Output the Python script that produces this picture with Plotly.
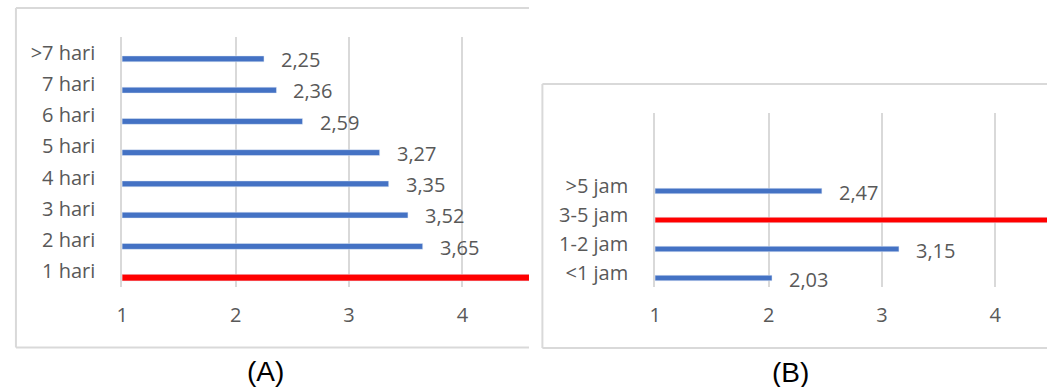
import plotly.graph_objects as go

W, H = 1047, 387

# ---- data ----
cats_a = ["1 hari", "2 hari", "3 hari", "4 hari", "5 hari", "6 hari", "7 hari", ">7 hari"]
vals_a = [None, 3.65, 3.52, 3.35, 3.27, 2.59, 2.36, 2.25]
highlight_a = "1 hari"
highlight_a_val = 4.8

cats_b = ["<1 jam", "1-2 jam", "3-5 jam", ">5 jam"]
vals_b = [2.03, 3.15, None, 2.47]
highlight_b = "3-5 jam"
highlight_b_val = 4.8

panel_labels = ["(A)", "(B)"]
x_ticks = [1, 2, 3, 4]

BLUE = "#4472C4"
RED = "#FF0000"
GRID = "#d9d9d9"
TXT = "#595959"
FONT = "Open Sans"


def px_x(p):
    return p / W


def px_y(p):
    return 1 - p / H


fig = go.Figure()

# Panel A
fig.add_trace(go.Bar(y=cats_a, x=vals_a, orientation="h", marker_color=BLUE,
                     width=0.19, offset=-0.295, xaxis="x", yaxis="y",
                     hoverinfo="skip", showlegend=False))
fig.add_trace(go.Bar(y=[highlight_a], x=[highlight_a_val], orientation="h", marker_color=RED,
                     width=0.21, offset=-0.305, xaxis="x", yaxis="y",
                     hoverinfo="skip", showlegend=False))
# Panel B
fig.add_trace(go.Bar(y=cats_b, x=vals_b, orientation="h", marker_color=BLUE,
                     width=0.19, offset=-0.285, xaxis="x2", yaxis="y2",
                     hoverinfo="skip", showlegend=False))
fig.add_trace(go.Bar(y=[highlight_b], x=[highlight_b_val], orientation="h", marker_color=RED,
                     width=0.19, offset=-0.285, xaxis="x2", yaxis="y2",
                     hoverinfo="skip", showlegend=False))

annotations = []
for c, v in zip(cats_a, vals_a):
    if v is None:
        continue
    annotations.append(dict(x=v, y=c, xref="x", yref="y", text=f"{v:.2f}".replace(".", ","),
                            showarrow=False, xanchor="left", yanchor="middle",
                            xshift=15, yshift=-7, font=dict(family=FONT, size=20, color=TXT)))
for c, v in zip(cats_b, vals_b):
    if v is None:
        continue
    annotations.append(dict(x=v, y=c, xref="x2", yref="y2", text=f"{v:.2f}".replace(".", ","),
                            showarrow=False, xanchor="left", yanchor="middle",
                            xshift=15, yshift=-7, font=dict(family=FONT, size=20, color=TXT)))

annotations.append(dict(x=px_x(261), y=px_y(371), xref="paper", yref="paper", text=panel_labels[0],
                        showarrow=False, xanchor="center", yanchor="middle",
                        font=dict(family="Liberation Sans, Arial", size=28, color="#000000")))
annotations.append(dict(x=px_x(789.5), y=px_y(372), xref="paper", yref="paper", text=panel_labels[1],
                        showarrow=False, xanchor="center", yanchor="middle",
                        font=dict(family="Liberation Sans, Arial", size=28, color="#000000")))

shapes = []
def hline(x0, x1, y):
    shapes.append(dict(type="line", xref="paper", yref="paper", x0=px_x(x0), x1=px_x(x1),
                       y0=px_y(y), y1=px_y(y), line=dict(color=GRID, width=2)))
def vline(x, y0, y1):
    shapes.append(dict(type="line", xref="paper", yref="paper", x0=px_x(x), x1=px_x(x),
                       y0=px_y(y0), y1=px_y(y1), line=dict(color=GRID, width=2)))

# panel A border (cropped at right)
hline(10, 526, 8)
hline(10, 526, 347.5)
vline(10, 8, 347.5)
# panel B border (cropped at right)
hline(539.5, 1047, 84)
hline(539.5, 1047, 348)
vline(539.5, 84, 348)

xcommon = dict(tickvals=x_ticks, showgrid=True, gridcolor=GRID, gridwidth=2,
               zeroline=False, showline=False, ticks="", ticklabelstandoff=14,
               tickfont=dict(family=FONT, size=20, color=TXT), fixedrange=True)
ycommon = dict(type="category", categoryorder="array", showgrid=False, zeroline=False,
               showline=True, linecolor=GRID, linewidth=2, ticks="", ticklabelstandoff=21,
               tickfont=dict(family=FONT, size=20, color=TXT), fixedrange=True)

fig.update_layout(
    width=W, height=H, margin=dict(l=0, r=0, t=0, b=0),
    paper_bgcolor="white", plot_bgcolor="white",
    barmode="overlay",
    xaxis=dict(domain=[px_x(117), px_x(526)], range=[1, 1 + (526 - 117) / 114],
               anchor="y", **xcommon),
    yaxis=dict(domain=[px_y(287), px_y(37)], categoryarray=cats_a,
               range=[-0.5, len(cats_a) - 0.5], anchor="x", **ycommon),
    xaxis2=dict(domain=[px_x(653), 1.0], range=[1, 1 + (1047 - 653) / 114],
                anchor="y2", **xcommon),
    yaxis2=dict(domain=[px_y(287), px_y(113)], categoryarray=cats_b,
                range=[-0.5, len(cats_b) + 1.5], anchor="x2", **ycommon),
    annotations=annotations,
    shapes=shapes,
)

fig.write_html("out.html")
